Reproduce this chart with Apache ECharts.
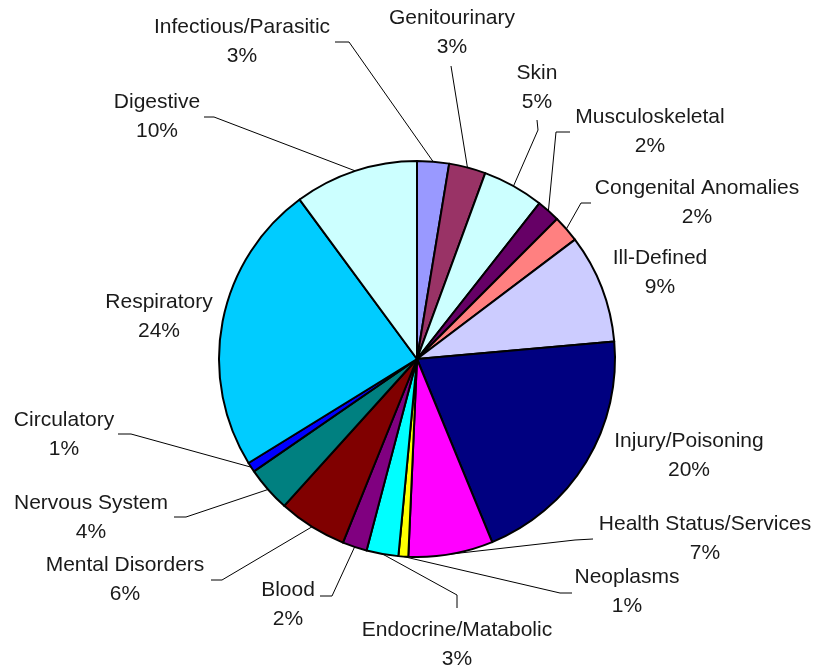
<!DOCTYPE html>
<html>
<head>
<meta charset="utf-8">
<script src="https://cdn.jsdelivr.net/npm/echarts@6/dist/echarts.min.js"></script>
<style>
html,body{margin:0;padding:0;background:#fff;}
#chart{width:817px;height:672px;}
</style>
</head>
<body>
<div id="chart"></div>
<script>
// Data (percent of total), clockwise from 12 o'clock
const categories = ['Infectious/Parasitic','Genitourinary','Skin','Musculoskeletal','Congenital Anomalies','Ill-Defined','Injury/Poisoning','Health Status/Services','Neoplasms','Endocrine/Matabolic','Blood','Mental Disorders','Nervous System','Circulatory','Respiratory','Digestive'];
const values = [2.6, 3.0, 5.0, 1.9, 2.2, 8.9, 20.2, 6.9, 0.8, 2.6, 2.0, 5.6, 3.7, 0.8, 23.7, 10.1];
const colors = ['#9999FF','#993366','#CCFFFF','#660066','#FF8080','#CCCCFF','#000080','#FF00FF','#FFFF00','#00FFFF','#800080','#800000','#008080','#0000FF','#00CCFF','#CCFFFF'];

// Label placement (styling only): text block centre
const labelPos = [[242,42],[452,33],[537,88],[650,132],[697,203],[660,273],[689,456],[705,539],[627,592],[457,645],[288,605],[125,580],[91,518],[64,435],[159,317],[157,117]];
// Leader line end (at label) and elbow; null = no leader
const leaderPts = [
  [[335,42],[349,42]],
  [[451,66],[451,66]],
  [[537,120],[538,130]],
  [[570,132],[556,132]],
  [[591,203],[581,203]],
  null,
  null,
  [[593,539],[575,540]],
  [[572,593],[560,593]],
  [[457,608],[457,595]],
  [[320,596],[332,596]],
  [[211,580],[222,580]],
  [[174,517],[186,517]],
  [[118,434],[131,434]],
  null,
  [[204,117],[214,117]]
];

const total = values.reduce((a,b)=>a+b,0);
const chart = echarts.init(document.getElementById('chart'));
chart.setOption({
  animation: false,
  backgroundColor: '#ffffff',
  series: [{
    type: 'pie',
    center: [417, 359],
    radius: 198,
    startAngle: 90,
    clockwise: true,
    avoidLabelOverlap: false,
    silent: true,
    emphasis: {disabled: true},
    itemStyle: {borderColor: '#000', borderWidth: 2},
    label: {
      show: true,
      position: 'outside',
      fontFamily: 'Liberation Sans, Arial, sans-serif',
      fontSize: 21,
      lineHeight: 29,
      color: '#1a1a1a',
      align: 'center',
      formatter: p => p.name + '\n' + Math.round(p.value / total * 100) + '%'
    },
    labelLine: {show: true, lineStyle: {color: '#000', width: 1}},
    labelLayout: function (params) {
      const i = params.dataIndex;
      const p = labelPos[i];
      const res = {x: p[0], y: p[1], align: 'center', verticalAlign: 'middle', hideOverlap: false};
      const ln = leaderPts[i];
      if (ln && params.labelLinePoints) {
        res.labelLinePoints = [params.labelLinePoints[0], ln[1], ln[0]];
      }
      return res;
    },
    data: categories.map((c, i) => ({
      name: c,
      value: values[i],
      itemStyle: {color: colors[i]},
      labelLine: {show: leaderPts[i] !== null}
    }))
  }]
});
</script>
</body>
</html>
